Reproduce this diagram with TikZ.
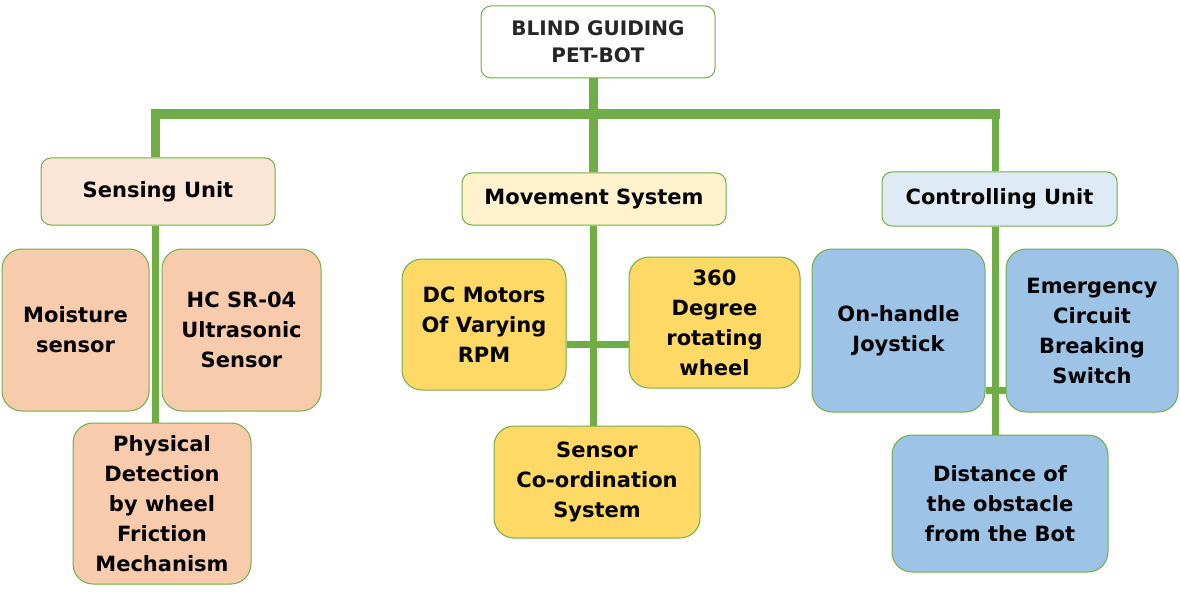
\documentclass[tikz,border=0pt]{standalone}
\usepackage{fontspec}
\setmainfont{DejaVu Sans}
\usetikzlibrary{backgrounds}
\definecolor{grn}{HTML}{70AD47}
\definecolor{peachL}{HTML}{FBE5D6}
\definecolor{peach}{HTML}{F8CBAD}
\definecolor{yelL}{HTML}{FFF2CC}
\definecolor{yel}{HTML}{FFD966}
\definecolor{bluL}{HTML}{DEEBF7}
\definecolor{blu}{HTML}{9DC3E6}
\definecolor{ttl}{HTML}{262626}
\tikzset{
  box/.style={draw=grn, line width=1pt, align=center, inner sep=0pt,
    font=\bfseries\fontsize{21}{30}\selectfont, text=black},
  hdr/.style={box, rounded corners=10pt},
  leaf/.style={box, rounded corners=20pt},
  conn/.style={draw=grn, line width=9pt},
  subconn/.style={draw=grn, line width=7pt},
}
\begin{document}
\begin{tikzpicture}[x=1pt,y=-1pt]
\useasboundingbox (0,0) rectangle (1180,596);
% title
\node[hdr, fill=white, text=ttl, font=\bfseries\fontsize{20}{27}\selectfont,
  minimum width=234, minimum height=72] (title) at (598,42) {BLIND GUIDING\\PET-BOT};
% headers
\node[hdr, fill=peachL, minimum width=234, minimum height=67] (sens) at (158,191.5) {Sensing Unit};
\node[hdr, fill=yelL, minimum width=264, minimum height=52] (mov) at (594,199) {Movement System};
\node[hdr, fill=bluL, minimum width=235, minimum height=54] (ctrl) at (999.5,199) {Controlling Unit};
% sensing leaves
\node[leaf, fill=peach, minimum width=147, minimum height=162] (moist) at (75.5,330) {Moisture\\sensor};
\node[leaf, fill=peach, minimum width=159, minimum height=162] (hc) at (241.5,330) {HC SR-04\\Ultrasonic\\Sensor};
\node[leaf, fill=peach, minimum width=178, minimum height=161] (phys) at (162,503.5) {Physical\\Detection\\by wheel\\Friction\\Mechanism};
% movement leaves
\node[leaf, fill=yel, minimum width=164, minimum height=131] (dc) at (484,324.5) {DC Motors\\Of Varying\\RPM};
\node[leaf, fill=yel, minimum width=171, minimum height=131] (deg) at (714.5,322.5) {360\\Degree\\rotating\\wheel};
\node[leaf, fill=yel, minimum width=206, minimum height=112] (sco) at (597,482) {Sensor\\Co-ordination\\System};
% controlling leaves
\node[leaf, fill=blu, minimum width=173, minimum height=163] (joy) at (898.5,330.5) {On-handle\\Joystick};
\node[leaf, fill=blu, minimum width=172, minimum height=163] (emg) at (1092,330.5) {Emergency\\Circuit\\Breaking\\Switch};
\node[leaf, fill=blu, minimum width=216, minimum height=137] (dist) at (1000,503.5) {Distance of\\the obstacle\\from the Bot};
% connector coordinates
\coordinate (barL) at (155.5,114.5);
\coordinate (barM) at (593.5,114.5);
\coordinate (barR) at (995,114.5);
\coordinate (mj) at (593.5,344.5);
\coordinate (rj) at (995,390);
\begin{scope}[on background layer]
  \draw[conn, line width=10pt] ([xshift=-4.5pt]barL) -- ([xshift=4.5pt]barR);
  \draw[conn] (barM |- title.south) -- (barM |- mov.north);
  \draw[conn] (barL) -- (barL |- sens.north);
  \draw[subconn] (barR) -- (barR |- ctrl.north);
  \draw[subconn] (barL |- sens.south) -- (barL |- phys.north);
  \draw[subconn] (barM |- mov.south) -- (barM |- sco.north);
  \draw[subconn] (mj -| dc.east) -- (mj -| deg.west);
  \draw[subconn] (barR |- ctrl.south) -- (barR |- dist.north);
  \draw[subconn] (rj -| joy.east) -- (rj -| emg.west);
\end{scope}
\end{tikzpicture}
\end{document}
